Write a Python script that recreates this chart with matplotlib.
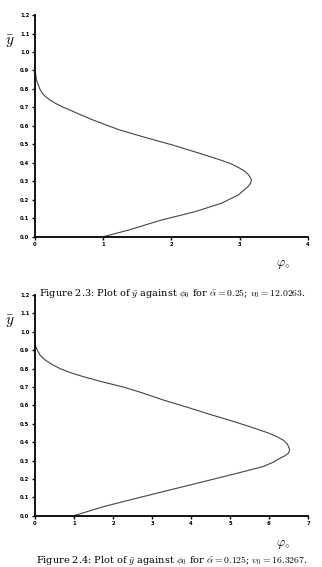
import matplotlib.pyplot as plt

plt.rcParams['mathtext.fontset'] = 'cm'

# Figure 2.3 curve (phi_0, y_bar), alpha = 0.25
phi_a = [0.0, 0.005, 0.02, 0.07, 0.11, 0.16, 0.22, 0.29, 0.40, 0.51, 0.68, 0.85,
         1.04, 1.24, 1.62, 2.02, 2.45, 2.72, 2.87, 2.98, 3.07, 3.13, 3.17, 3.16,
         3.12, 2.98, 2.73, 2.34, 1.85, 1.37, 1.0]
y_a = [0.92, 0.89, 0.85, 0.80, 0.775, 0.757, 0.74, 0.724, 0.703, 0.686, 0.658, 0.632,
       0.605, 0.578, 0.537, 0.496, 0.447, 0.415, 0.395, 0.375, 0.355, 0.335, 0.31, 0.29,
       0.271, 0.226, 0.181, 0.135, 0.09, 0.036, 0.0]

# Figure 2.4 curve, alpha = 0.125
phi_b = [0.0, 0.005, 0.02, 0.06, 0.14, 0.26, 0.44, 0.64, 0.92, 1.24, 1.72, 2.26,
         2.78, 3.29, 3.90, 4.50, 5.05, 5.51, 5.98, 6.20, 6.37, 6.47, 6.53, 6.50,
         6.40, 6.28, 6.10, 5.85, 5.17, 4.32, 3.46, 2.61, 1.75, 1.0]
y_b = [0.965, 0.94, 0.92, 0.90, 0.87, 0.847, 0.822, 0.80, 0.777, 0.756, 0.728, 0.70,
       0.666, 0.629, 0.59, 0.55, 0.515, 0.484, 0.45, 0.43, 0.41, 0.39, 0.36, 0.34,
       0.325, 0.312, 0.29, 0.267, 0.23, 0.185, 0.14, 0.095, 0.049, 0.0]

y_ticks = [0.0, 0.1, 0.2, 0.3, 0.4, 0.5, 0.6, 0.7, 0.8, 0.9, 1.0, 1.1, 1.2]

captions = [r'Figure 2.3: Plot of $\bar{y}$ against $\phi_0$ for $\bar{\alpha}=0.25$; $v_0=12.0263$.',
            r'Figure 2.4: Plot of $\bar{y}$ against $\phi_0$ for $\bar{\alpha}=0.125$; $v_0=16.3267$.']

fig = plt.figure(figsize=(3.22, 5.67), dpi=100)


def draw(rect, phi, y, xmax, label_y):
    ax = fig.add_axes(rect)
    ax.plot(phi, y, color='#444444', lw=0.8)
    ax.set_xlim(0, xmax)
    ax.set_ylim(0, 1.2)
    ax.set_xticks(range(xmax + 1))
    ax.set_yticks(y_ticks)
    ax.set_yticklabels([f'{v:.1f}' for v in y_ticks])
    for s in ['top', 'right']:
        ax.spines[s].set_visible(False)
    for s in ['left', 'bottom']:
        ax.spines[s].set_linewidth(1.3)
    ax.tick_params(labelsize=3.8, length=2.5, width=1.0, pad=1.5)
    for t in ax.get_xticklabels() + ax.get_yticklabels():
        t.set_fontweight('bold')
    fig.text(0.03, label_y, r'$\bar{y}$', fontsize=11, fontweight='bold', ha='center', va='center')
    fig.text(0.88, label_y - 0.393, r'$\varphi_{\!\circ}$', fontsize=9, ha='center', va='center')
    return ax


draw([0.1087, 0.5825, 0.8478, 0.391], phi_a, y_a, 4, 0.926)
draw([0.1087, 0.0905, 0.8478, 0.3892], phi_b, y_b, 7, 0.432)

fig.text(0.535, 0.483, captions[0], fontsize=7, ha='center', va='center', family='DejaVu Serif')
fig.text(0.535, 0.012, captions[1], fontsize=7, ha='center', va='center', family='DejaVu Serif')

fig.savefig('out.png', dpi=100)
